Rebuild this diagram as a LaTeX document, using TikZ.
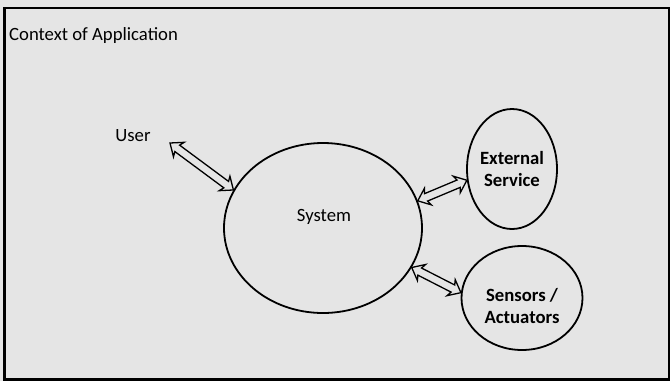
\documentclass[tikz,border=0pt]{standalone}
\usepackage{fontspec}
\setmainfont{Carlito}
\usetikzlibrary{shapes.geometric,calc}
\definecolor{canvasgray}{HTML}{E5E5E5}

% Hollow two-headed block arrow from #1 to #2
\newcommand\twoway[2]{%
  \draw[flowarrow] (#1)
    -- ($(#1)!11pt!(#2)!9pt!90:(#2)$)
    -- ($(#1)!9pt!(#2)!4pt!90:(#2)$)
    -- ($(#2)!9pt!(#1)!4pt!-90:(#1)$)
    -- ($(#2)!11pt!(#1)!9pt!-90:(#1)$)
    -- (#2)
    -- ($(#2)!11pt!(#1)!9pt!90:(#1)$)
    -- ($(#2)!9pt!(#1)!4pt!90:(#1)$)
    -- ($(#1)!9pt!(#2)!4pt!-90:(#2)$)
    -- ($(#1)!11pt!(#2)!9pt!-90:(#2)$)
    -- cycle;}

\begin{document}
\begin{tikzpicture}[x=1pt,y=-1pt,
  every node/.style={font=\fontsize{18.7}{22}\selectfont, inner sep=0pt},
  heavy/.style={font=\fontsize{18.7}{22}\selectfont\bfseries},
  bubble/.style={ellipse, draw, line width=1.8pt, inner sep=0pt},
  flowarrow/.style={draw, line width=1.3pt, fill=canvasgray, line join=miter}]
  \fill[canvasgray] (0,0) rectangle (670,381);
  \useasboundingbox (0,0) rectangle (670,381);
  \draw[line width=2.5pt] (4.5,8) rectangle (669,379.5);

  \node[anchor=base west] (ctx) at (9,40) {Context of Application};
  \node[anchor=base] (user) at (133,141) {User};

  \node[bubble, minimum width=198pt, minimum height=170pt] (sys) at (323,228) {};
  \node[anchor=base] (systxt) at (324,221) {System};

  \node[bubble, minimum width=90pt, minimum height=120pt] (ext) at (512,169) {};
  \node[heavy, align=center, anchor=base] (exttxt) at (512,186) {External\\Service};

  \node[bubble, minimum width=121pt, minimum height=104pt] (sens) at (522,298) {};
  \node[heavy, align=center, anchor=base] (senstxt) at (522,323) {Sensors /\\Actuators};

  \coordinate (userend) at (170,143);
  \twoway{userend}{sys.157}
  \twoway{sys.16}{ext.194}
  \twoway{sys.336}{sens.175}
\end{tikzpicture}
\end{document}
